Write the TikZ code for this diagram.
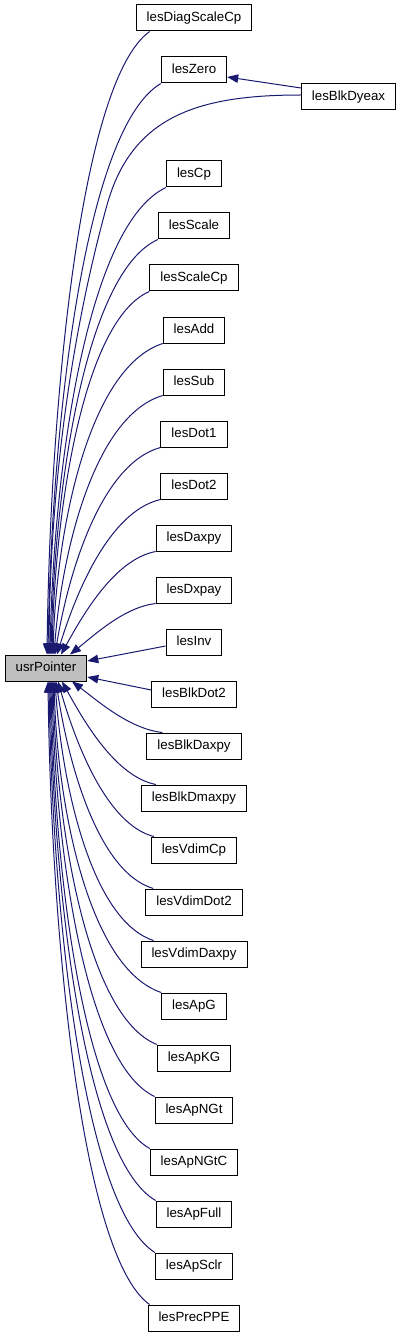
\documentclass[tikz,border=0pt]{standalone}
\usepackage{fontspec}
\setmainfont{Liberation Sans}
\usetikzlibrary{arrows.meta}
\definecolor{edgeblue}{HTML}{191970}
\definecolor{nodegray}{HTML}{BFBFBF}
\begin{document}
\begin{tikzpicture}[x=1pt,y=-1pt,
  fn/.style={draw=black, line width=1pt, fill=white, minimum height=26pt,
    inner xsep=10.5pt, inner ysep=0pt, text height=9.8pt, text depth=2.6pt,
    font=\fontsize{13.3}{15}\selectfont},
  edge/.style={draw=edgeblue, line width=1pt, -{Triangle[length=11pt,width=8.5pt]}}]
\useasboundingbox (0,0) rectangle (403,1337);
\node[fn,fill=nodegray] (usr) at (46,668) {usrPointer};
\node[fn] (n1) at (194,18) {lesDiagScaleCp};
\node[fn] (n2) at (194,70) {lesZero};
\node[fn] (n3) at (348.5,97) {lesBlkDyeax};
\node[fn] (n4) at (194,174) {lesCp};
\node[fn] (n5) at (194,226) {lesScale};
\node[fn] (n6) at (194,278) {lesScaleCp};
\node[fn] (n7) at (194,330) {lesAdd};
\node[fn] (n8) at (194,382) {lesSub};
\node[fn] (n9) at (194,434) {lesDot1};
\node[fn] (n10) at (194,486) {lesDot2};
\node[fn] (n11) at (194,538) {lesDaxpy};
\node[fn] (n12) at (194,590) {lesDxpay};
\node[fn] (n13) at (194,642) {lesInv};
\node[fn] (n14) at (194,694) {lesBlkDot2};
\node[fn] (n15) at (194,746) {lesBlkDaxpy};
\node[fn] (n16) at (194,798) {lesBlkDmaxpy};
\node[fn] (n17) at (194,850) {lesVdimCp};
\node[fn] (n18) at (194,902) {lesVdimDot2};
\node[fn] (n19) at (194,954) {lesVdimDaxpy};
\node[fn] (n20) at (194,1006) {lesApG};
\node[fn] (n21) at (194,1058) {lesApKG};
\node[fn] (n22) at (194,1110) {lesApNGt};
\node[fn] (n23) at (194,1162) {lesApNGtC};
\node[fn] (n24) at (194,1214) {lesApFull};
\node[fn] (n25) at (194,1266) {lesApSclr};
\node[fn] (n26) at (194,1318) {lesPrecPPE};
% upper edges
\foreach \n/\xs/\ys/\xe/\sh in {n1/150/31/47/14, n2/161/83/48/0, n4/166/187/50/0,
  n5/158/239/51/0, n6/150/291/52/0, n7/163/343/53/0, n8/163/395/54/0,
  n9/161/447/55/0, n10/161/499/57/0, n11/156/551/61/0, n12/156/603/70/0}{
  \pgfmathsetmacro\dx{\xs-\xe}
  \pgfmathsetmacro\D{655-\ys}
  \pgfmathsetmacro\r{min(1,\D/300)}
  \pgfmathsetmacro\k{0.3+0.38*\r}
  \pgfmathsetmacro\m{0.35-0.32*\r}
  \pgfmathsetmacro\ax{\xs-\k*\dx}
  \pgfmathsetmacro\ay{\ys+0.08*\D}
  \pgfmathsetmacro\bx{\xe+\m*\dx}
  \pgfmathsetmacro\by{\ys+0.6*\D}
  \pgfmathsetmacro\ex{\xe-46}
  \draw[edge] ([xshift=\sh pt]\n.south west) .. controls (\ax,\ay) and (\bx,\by) .. ([xshift=\ex pt]usr.north);
}
% lower edges
\foreach \n/\xs/\ys/\xe/\sh in {n15/163/733/72/16, n16/157/785/62/15, n17/155/837/58/3,
  n18/153/889/56/8, n19/153/941/55/13, n20/162/993/54/0, n21/158/1045/53/0,
  n22/155/1097/52/0, n23/151/1149/51/0, n24/156/1201/50/0, n25/155/1253/49/0,
  n26/150/1305/48/2}{
  \pgfmathsetmacro\dx{\xs-\xe}
  \pgfmathsetmacro\D{\ys-681}
  \pgfmathsetmacro\r{min(1,\D/300)}
  \pgfmathsetmacro\k{0.3+0.38*\r}
  \pgfmathsetmacro\m{0.35-0.32*\r}
  \pgfmathsetmacro\ax{\xs-\k*\dx}
  \pgfmathsetmacro\ay{\ys-0.08*\D}
  \pgfmathsetmacro\bx{\xe+\m*\dx}
  \pgfmathsetmacro\by{\ys-0.6*\D}
  \pgfmathsetmacro\ex{\xe-46}
  \draw[edge] ([xshift=\sh pt]\n.north west) .. controls (\ax,\ay) and (\bx,\by) .. ([xshift=\ex pt]usr.south);
}
% straight edges
\draw[edge] ([yshift=-4pt]n13.west) -- ([yshift=7pt]usr.east);
\draw[edge] ([yshift=4pt]n14.west) -- ([yshift=-9pt]usr.east);
% lesBlkDyeax edges
\draw[edge] ([yshift=2pt]n3.west) .. controls (200,95) and (132,115) .. (107,205)
  .. controls (82,295) and (50,450) .. ([xshift=3pt]usr.north);
\draw[edge] ([yshift=9pt]n3.west) -- ([yshift=-7pt]n2.east);
\end{tikzpicture}
\end{document}
